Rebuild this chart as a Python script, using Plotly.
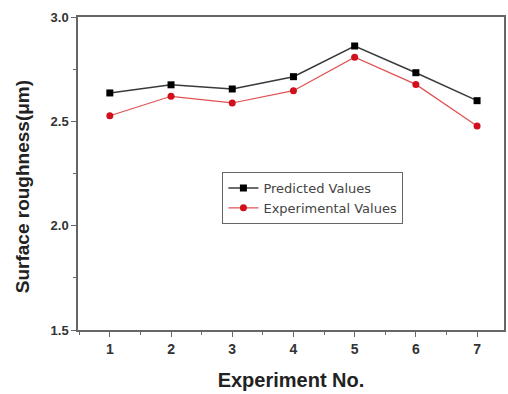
import plotly.graph_objects as go

experiments = [1, 2, 3, 4, 5, 6, 7]
predicted = [2.636, 2.675, 2.655, 2.714, 2.861, 2.733, 2.599]
experimental = [2.527, 2.620, 2.588, 2.647, 2.807, 2.677, 2.478]
y_ticks = [1.5, 2.0, 2.5, 3.0]
y_tick_labels = ["1.5", "2.0", "2.5", "3.0"]

fig = go.Figure()
fig.add_trace(go.Scatter(
    x=experiments, y=predicted, mode="lines+markers", name="Predicted Values",
    line=dict(color="#3a3a3a", width=1.5),
    marker=dict(symbol="square", size=7, color="#000000")))
fig.add_trace(go.Scatter(
    x=experiments, y=experimental, mode="lines+markers", name="Experimental Values",
    line=dict(color="#e05050", width=1.2),
    marker=dict(symbol="circle", size=7, color="#d0101c")))

axis_common = dict(
    showline=True, linecolor="#666666", linewidth=1.5, mirror=True,
    showgrid=False, zeroline=False, ticks="outside", ticklen=5,
    tickcolor="#666666", tickwidth=1,
)

fig.update_layout(
    width=508, height=394,
    margin=dict(l=78, r=2, t=17, b=64),
    paper_bgcolor="white", plot_bgcolor="white",
    xaxis=dict(
        range=[0.48, 7.44], tickvals=experiments,
        tickfont=dict(family="Liberation Sans, Arial", size=14, color="#333333", weight="bold"),
        minor=dict(dtick=0.5, tick0=0.5, ticks="outside", ticklen=3, tickcolor="#666666"),
        title=dict(text="Experiment No.", standoff=17,
                   font=dict(family="Liberation Sans, Arial", size=20, color="#222222", weight="bold")),
        **axis_common),
    yaxis=dict(
        range=[1.5, 3.0], tickvals=y_ticks, ticktext=y_tick_labels,
        tickfont=dict(family="Liberation Sans, Arial", size=13, color="#333333", weight="bold"),
        minor=dict(dtick=0.25, tick0=1.5, ticks="outside", ticklen=3, tickcolor="#666666"),
        **axis_common),
    legend=dict(
        x=0.339, y=0.505, xanchor="left", yanchor="top",
        bordercolor="#666666", borderwidth=1, bgcolor="white",
        font=dict(family="DejaVu Sans", size=13, color="#444444"),
        tracegroupgap=0, itemwidth=30),
    showlegend=True,
    annotations=[dict(
        text="Surface roughness(μm)", textangle=-90,
        xref="paper", yref="paper", x=-0.1285, y=0.457,
        xanchor="center", yanchor="middle", showarrow=False,
        font=dict(family="Liberation Sans, Arial", size=19, color="#222222", weight="bold"))],
)

fig.write_html("out.html")
